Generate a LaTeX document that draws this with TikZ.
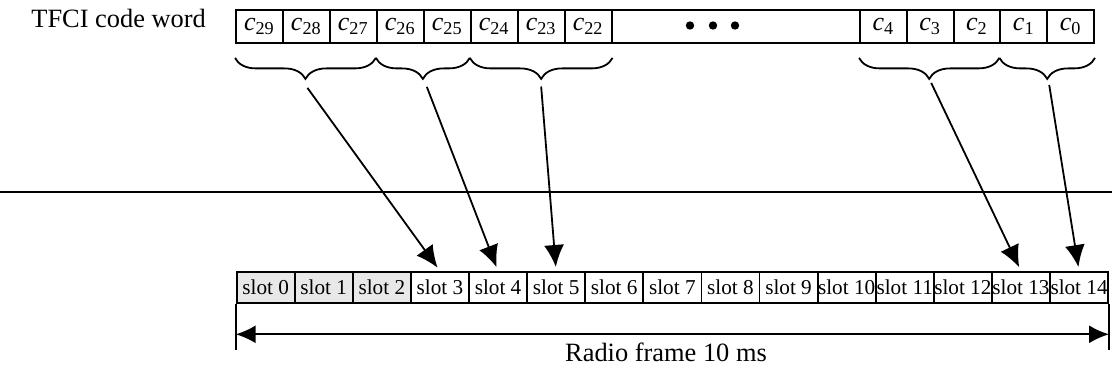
\documentclass[tikz,border=0pt]{standalone}
\usepackage{fontspec}
\setmainfont{Liberation Serif}
\usetikzlibrary{calc,arrows.meta,decorations.pathreplacing}

\tikzset{
    bit/.style={draw, line width=0.9pt, minimum width=23.5pt, minimum height=16.3pt,
        inner sep=0pt, anchor=north west, font=\fontsize{13}{15}\selectfont},
    slotbox/.style={draw, line width=0.9pt, minimum width=29.05pt, minimum height=15.5pt,
        inner sep=0pt, anchor=north west, font=\fontsize{10.6}{12}\selectfont},
    grp/.style={decorate, decoration={brace, mirror, amplitude=10.5pt}, line width=0.9pt},
    maparrow/.style={-{Latex[length=11pt,width=10pt]}, line width=0.9pt, shorten >=2pt},
}

\begin{document}
\begin{tikzpicture}[x=0.5pt, y=-0.5pt]
        \useasboundingbox (0,0) rectangle (1112,374);
        \node[anchor=base east, font=\fontsize{13.2}{15}\selectfont] (tfci) at (213,28) {TFCI code word};
        % code word bits
        \foreach \i [count=\k from 0] in {29,28,...,22}
        \node[bit] (c\i) at (235+46.96*\k,9.5) {\textit{c}\textsubscript{\i}};
        \node[bit, minimum width=124.15pt] (dots) at (610.7,9.5) {};
        \foreach \x in {690,713,735}
        \fill (\x,25.5) circle (4.2);
        \foreach \i [count=\k from 0] in {4,3,...,0}
        \node[bit] (c\i) at (859+46.8*\k,9.5) {\textit{c}\textsubscript{\i}};
        % braces
        \draw[grp] ([yshift=-7pt]c29.south west) -- ([yshift=-7pt]c26.south west);
        \draw[grp] ([yshift=-7pt]c26.south west) -- ([yshift=-7pt]c24.south west);
        \draw[grp] ([yshift=-7pt]c24.south west) -- ([yshift=-7pt]c22.south east);
        \draw[grp] ([yshift=-7pt]c4.south west) -- ([yshift=-7pt]c1.south west);
        \draw[grp] ([yshift=-7pt]c1.south west) -- ([yshift=-7pt]c0.south east);
        \coordinate (g1) at ($(c29.south west)!0.5!(c26.south west)+(1pt,-22pt)$);
        \coordinate (g2) at ($(c26.south west)!0.5!(c24.south west)+(2pt,-21.5pt)$);
        \coordinate (g3) at ($(c24.south west)!0.5!(c22.south east)+(0pt,-21.3pt)$);
        \coordinate (g4) at ($(c4.south west)!0.5!(c1.south west)+(1pt,-19.5pt)$);
        \coordinate (g5) at ($(c1.south west)!0.5!(c0.south east)+(1pt,-20.5pt)$);
        % divider
        \draw[line width=1pt] (0,192) -- (1112,192);
        % slots
        \foreach \i in {0,1,2}
        \node[slotbox, fill=gray!18] (s\i) at (235.7+58.1*\i,271) {slot \i};
        \foreach \i in {3,...,14}
        \node[slotbox] (s\i) at (235.7+58.1*\i,271) {slot \i};
        \draw[maparrow] (g1) -- (s3.north);
        \draw[maparrow] (g2) -- (s4.north);
        \draw[maparrow] (g3) -- (s5.north);
        \draw[maparrow] (g4) -- (s13.north);
        \draw[maparrow] (g5) -- (s14.north);
        % radio frame
        \coordinate (fl) at ([yshift=-23pt]s0.south west);
        \coordinate (fr) at ([yshift=-23pt]s14.south east);
        \draw[line width=0.9pt] (s0.south west) -- (fl);
        \draw[line width=0.9pt] (s14.south east) -- (fr);
        \draw[{Latex[length=10pt,width=9pt]}-{Latex[length=10pt,width=9pt]}, line width=0.9pt]
            ([yshift=-15.25pt]s0.south west) -- ([yshift=-15.25pt]s14.south east);
        \node[anchor=base, font=\fontsize{13.2}{15}\selectfont] (frame) at (666,361.5) {Radio frame 10 ms};
\end{tikzpicture}
\end{document}
